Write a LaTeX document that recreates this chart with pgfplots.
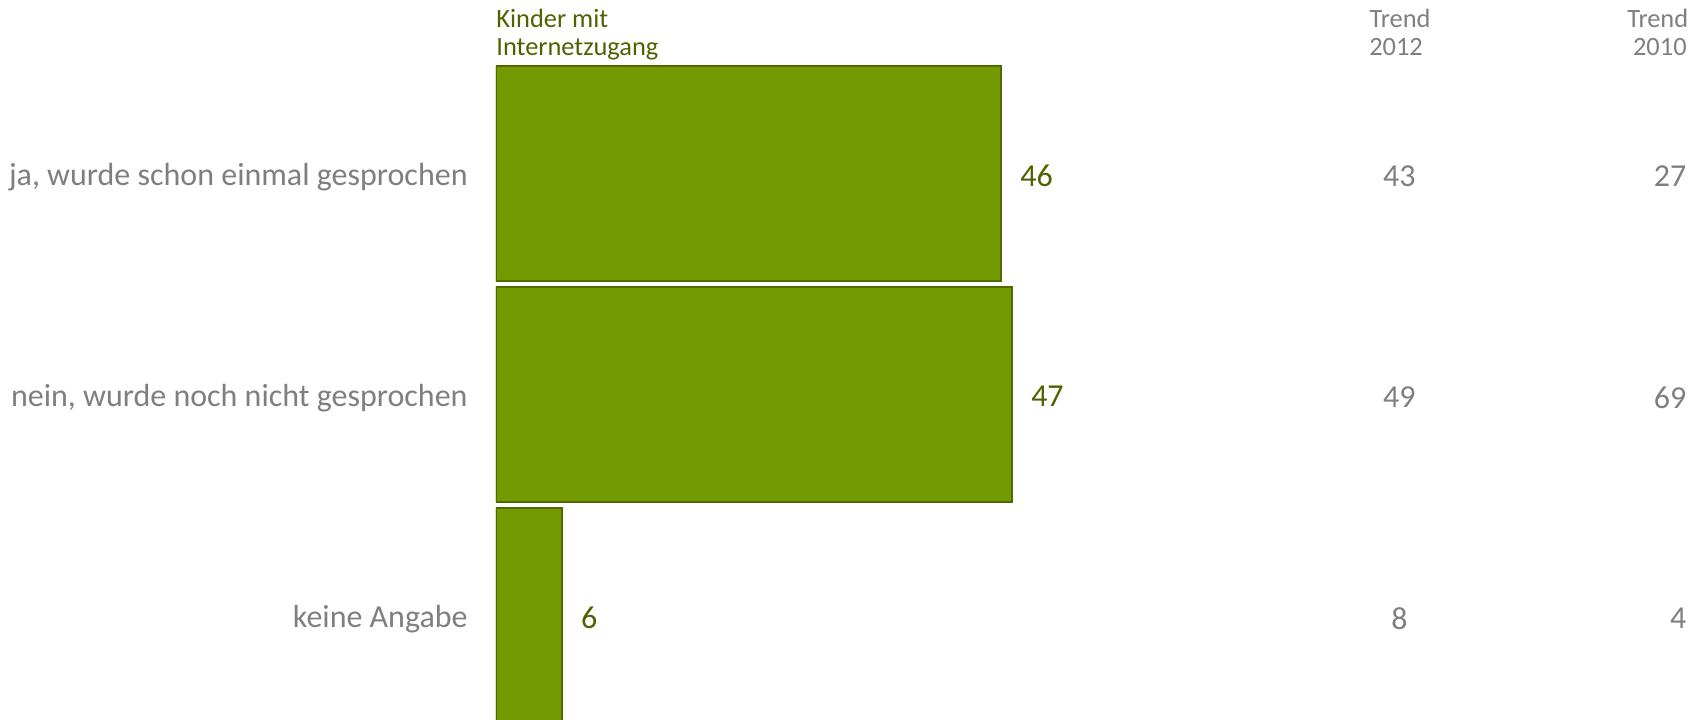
\documentclass[border=0pt]{standalone}
\usepackage{fontspec}
\setmainfont{Carlito}
\usepackage{pgfplots}
\usepackage{pgfplotstable}
\pgfplotsset{compat=1.18}

\definecolor{barfill}{HTML}{739A00}
\definecolor{barline}{HTML}{4F6B00}
\definecolor{valtext}{HTML}{4E6300}
\definecolor{greytext}{HTML}{7F7F7F}

\pgfplotstableread[col sep=comma]{
pos,share,t2012,t2010
0,46,43,27
1,47,49,69
2,6,8,4
}\datatable

\begin{document}
\begin{tikzpicture}[font=\fontsize{16}{19}\selectfont]
\begin{axis}[
    scale only axis,
    width=602.5pt,
    height=360pt,
    xmin=0, xmax=109.745,
    ymin=-0.785, ymax=2.473,
    y dir=reverse,
    enlargelimits=false,
    xtick=\empty,
    ytick={0,1,2},
    yticklabels={ja{,} wurde schon einmal gesprochen,nein{,} wurde noch nicht gesprochen,keine Angabe},
    yticklabel style={anchor=east, inner sep=0pt, xshift=-14pt, yshift=-1.8pt, text=greytext},
    major tick length=0pt,
    tick style={draw=none},
    axis line style={draw=none},
    clip mode=individual,
    /pgf/number format/assume math mode=true,
]
\addplot[
    xbar, bar width=107.5pt, bar shift=0pt,
    fill=barfill, draw=barline, line width=1.2pt,
    nodes near coords,
    every node near coord/.append style={anchor=west, inner sep=0pt, xshift=9pt, yshift=-1pt, text=valtext}
] table[x=share, y=pos] {\datatable};

\addplot[
    draw=none, mark=none, forget plot,
    nodes near coords, point meta=explicit symbolic,
    every node near coord/.append style={anchor=center, inner sep=0pt, yshift=-1.5pt, text=greytext}
] table[x expr=82.28, y=pos, meta=t2012] {\datatable};

\addplot[
    draw=none, mark=none, forget plot,
    nodes near coords, point meta=explicit symbolic,
    every node near coord/.append style={anchor=east, inner sep=0pt, yshift=-1.5pt, text=greytext}
] table[x expr=108.45, y=pos, meta=t2010] {\datatable};
\end{axis}

\begin{scope}[font=\fontsize{13.2}{15}\selectfont, inner sep=0pt]
\node[anchor=base west, text=valtext] at ([yshift=-13.9pt]current axis.north west) {Kinder mit};
\node[anchor=base west, text=valtext] at ([yshift=-27.7pt]current axis.north west) {Internetzugang};
\node[anchor=base, text=greytext] at ([xshift=452pt, yshift=-13.9pt]current axis.north west) {Trend};
\node[anchor=base, text=greytext] at ([xshift=450pt, yshift=-27.7pt]current axis.north west) {2012};
\node[anchor=base east, text=greytext] at ([xshift=596.3pt, yshift=-13.9pt]current axis.north west) {Trend};
\node[anchor=base east, text=greytext] at ([xshift=595.5pt, yshift=-27.7pt]current axis.north west) {2010};
\end{scope}

\pgfresetboundingbox
\useasboundingbox ([xshift=-248pt]current axis.south west) rectangle (current axis.north east);
\end{tikzpicture}
\end{document}
